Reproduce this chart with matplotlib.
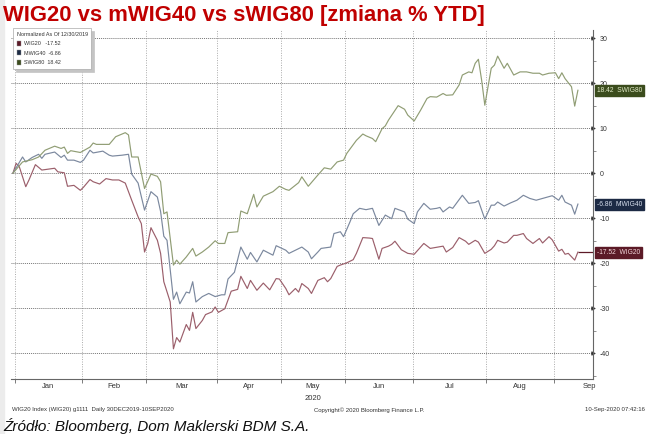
import matplotlib
matplotlib.use("Agg")
import matplotlib.pyplot as plt
import matplotlib.font_manager as fm
from matplotlib.patches import Patch, Rectangle
import pandas as pd


# sesje GPW liczone od 30.12.2019 (sesja 0), wartosci w % od poczatku roku
wig20_idx = [0, 1, 2, 4, 5, 7, 9, 12, 13, 14, 16, 17, 19, 21, 22, 24, 25, 27, 29, 31,
             33, 35, 37, 39, 40, 41, 42, 43, 45, 46, 47, 49, 50, 51, 52, 54, 55, 56, 57, 59,
             60, 62, 63, 64, 66, 68, 70, 71, 73, 74, 76, 78, 80, 82, 83, 85, 86, 88, 89, 90,
             92, 93, 95, 97, 98, 99, 101, 102, 104, 106, 107, 109, 111, 112, 114, 115, 117, 118, 119, 121,
             123, 125, 127, 128, 130, 134, 135, 137, 139, 141, 142, 144, 145, 147, 149, 150, 151, 153, 154, 156,
             157, 159, 160, 162, 164, 165, 167, 168, 170, 171, 172, 173, 175, 176]
wig20_val = [0.0, 2.2, 1.4, -3.0, -1.5, 1.9, 0.7, 1.0, 1.1, 0.3, 0.1, -2.9, -2.7, -3.8, -3.1, -1.4, -1.9, -2.4, -1.2, -1.5,
             -1.5, -2.2, -6.0, -9.7, -11.2, -17.5, -15.6, -12.1, -14.9, -17.8, -24.1, -28.6, -39.0, -36.5, -37.5, -33.6, -34.9, -30.9, -34.5, -32.7,
             -31.4, -30.8, -29.7, -30.9, -30.1, -26.2, -25.8, -22.9, -25.6, -23.8, -26.0, -24.4, -25.9, -23.4, -23.5, -25.6, -27.0, -25.6, -26.4, -24.5,
             -25.6, -26.7, -23.8, -23.2, -24.1, -23.4, -20.7, -20.4, -19.9, -19.2, -17.8, -14.3, -14.4, -14.5, -19.1, -16.7, -16.2, -15.8, -15.1, -17.0,
             -17.8, -18.0, -16.4, -15.6, -16.7, -16.2, -17.5, -16.5, -14.3, -15.1, -15.8, -14.9, -15.3, -17.8, -16.9, -16.1, -14.9, -15.5, -15.3, -13.8,
             -13.8, -13.4, -14.5, -15.6, -14.5, -15.5, -14.1, -14.8, -17.3, -16.9, -18.0, -17.8, -19.3, -17.52]

mwig40_idx = [0, 3, 4, 6, 8, 9, 10, 13, 15, 16, 17, 19, 21, 22, 24, 25, 28, 30, 31, 34,
              36, 37, 39, 41, 43, 45, 46, 47, 48, 50, 51, 52, 54, 55, 56, 57, 59, 61, 63, 65,
              66, 67, 69, 71, 73, 74, 76, 78, 81, 82, 85, 86, 88, 90, 92, 93, 95, 96, 99, 100,
              102, 103, 105, 106, 108, 110, 112, 114, 116, 118, 119, 122, 123, 125, 126, 128, 130, 132, 133, 134,
              136, 137, 140, 142, 144, 145, 147, 149, 150, 151, 153, 155, 157, 159, 161, 163, 165, 168, 170, 171,
              172, 174, 175, 176]
mwig40_val = [0.0, 3.6, 2.5, 3.5, 4.2, 3.3, 4.2, 4.7, 3.5, 4.0, 2.9, 2.9, 2.4, 2.9, 5.1, 4.5, 4.9, 4.0, 3.8, 4.0,
              4.2, -0.2, -2.2, -8.2, -4.1, -5.3, -8.5, -14.0, -14.9, -28.0, -26.4, -29.0, -26.4, -26.6, -24.1, -28.6, -27.4, -26.7, -27.4, -27.0,
              -27.0, -23.5, -22.0, -16.4, -19.1, -17.6, -19.7, -17.1, -18.2, -16.1, -17.1, -17.8, -17.1, -16.4, -17.5, -19.0, -17.5, -16.7, -16.4, -13.4,
              -13.0, -14.1, -10.8, -9.0, -7.8, -8.1, -7.8, -11.6, -9.3, -10.1, -7.8, -8.6, -10.2, -11.2, -8.6, -6.7, -8.0, -7.8, -7.6, -8.6,
              -7.5, -7.8, -4.9, -6.7, -6.5, -6.1, -10.2, -7.1, -7.1, -6.4, -7.3, -6.6, -6.0, -4.9, -5.6, -6.0, -5.6, -5.0, -6.0, -4.9,
              -6.4, -7.1, -9.1, -6.86]

swig80_idx = [0, 3, 6, 8, 10, 13, 15, 16, 17, 18, 21, 24, 25, 26, 30, 32, 35, 36, 37, 39,
              41, 43, 45, 46, 47, 48, 50, 51, 52, 54, 56, 57, 59, 61, 63, 64, 66, 67, 70, 71,
              73, 75, 76, 78, 81, 83, 85, 86, 89, 90, 92, 95, 97, 99, 101, 103, 104, 107, 109, 110,
              112, 113, 115, 116, 117, 120, 122, 123, 125, 127, 129, 130, 132, 134, 135, 137, 139, 140, 142, 143,
              144, 145, 146, 147, 149, 150, 151, 153, 154, 156, 158, 160, 162, 164, 165, 167, 169, 170, 171, 172,
              174, 175, 176]
swig80_val = [0.0, 2.5, 3.0, 3.6, 5.1, 6.0, 5.5, 5.8, 4.4, 5.0, 4.6, 5.8, 6.7, 6.4, 6.4, 8.1, 9.0, 8.5, 3.6, 3.6,
              -3.4, -0.2, -0.7, -1.9, -9.0, -8.6, -20.4, -19.3, -20.2, -18.6, -16.7, -18.4, -17.5, -16.4, -15.0, -15.6, -15.6, -13.2, -13.0, -8.4,
              -9.0, -4.7, -7.5, -5.1, -4.1, -2.9, -3.6, -3.8, -2.1, -0.8, -2.9, -0.4, 1.2, 0.9, 2.5, 2.9, 4.4, 7.3, 8.7, 8.3,
              7.7, 7.0, 9.9, 10.5, 11.8, 15.0, 14.2, 12.9, 11.6, 14.0, 16.6, 17.0, 16.9, 17.7, 17.3, 17.4, 19.6, 21.8, 22.5, 22.3,
              24.4, 25.3, 20.7, 15.1, 23.3, 24.0, 26.0, 23.3, 24.4, 21.8, 22.5, 22.5, 22.2, 22.2, 21.8, 22.2, 22.3, 21.0, 22.3, 21.0,
              19.2, 14.9, 18.42]

names = ["WIG20", "MWIG40", "SWIG80"]
line_colors = ["#9b5f6b", "#7b889e", "#909d74"]
tag_colors = ["#5c1a27", "#1c2a44", "#3b4c1d"]
tag_text = ["#f2d6da", "#d8e0ee", "#e2ecc8"]

holidays = ["2019-12-31", "2020-01-01", "2020-01-06", "2020-04-10",
            "2020-04-13", "2020-05-01", "2020-06-11"]
month_labels = ["Jan", "Feb", "Mar", "Apr", "May", "Jun", "Jul", "Aug", "Sep"]

plt.rcParams["axes.unicode_minus"] = False

# kalendarz sesji az do konca wrzesnia (srodek etykiety Sep)
days = pd.bdate_range("2019-12-30", "2020-09-30")
days = days[~days.isin(pd.to_datetime(holidays))]
sess = pd.Series(range(len(days)), index=days)
bounds, centers = [], []
for m in range(1, 10):
    s = sess[(sess.index.month == m) & (sess.index.year == 2020)]
    bounds.append(s.iloc[0] - 0.5)
    centers.append((s.iloc[0] + s.iloc[-1]) / 2)

have = {f.name for f in fm.fontManager.ttflist}
narrow = "Liberation Sans Narrow" if "Liberation Sans Narrow" in have else "Liberation Sans"

W, H = 648, 434
fig = plt.figure(figsize=(W / 100, H / 100), dpi=100)
fig.patch.set_facecolor("white")
fig.patches.append(Rectangle((0, 0), 4 / W, 1, transform=fig.transFigure,
                             color="#ececec", zorder=0))

ax = fig.add_axes([11 / W, 1 - 379 / H, 582 / W, 349 / H])
ax.set_xlim(-0.6, 180.7)
ax.set_ylim(-45.7, 31.8)

series = [(wig20_idx, wig20_val), (mwig40_idx, mwig40_val), (swig80_idx, swig80_val)]
for (xi, yv), c in zip(series, line_colors):
    ax.plot(xi, yv, color=c, lw=0.85, zorder=3)

# linia ostatniej wartosci WIG20 do osi
ax.hlines(wig20_val[-1], wig20_idx[-1], ax.get_xlim()[1], color=tag_colors[0], lw=0.9, zorder=3)

for sp in ["top", "left"]:
    ax.spines[sp].set_visible(False)
for sp in ["bottom", "right"]:
    ax.spines[sp].set_color("#666666")
    ax.spines[sp].set_linewidth(0.8)

ax.yaxis.tick_right()
ax.set_yticks(range(-40, 31, 10))
ax.set_yticks(range(-45, 31, 5), minor=True)
ax.tick_params(axis="y", which="major", length=3, width=0.6, pad=1.5,
               labelsize=5, colors="#333333")
ax.tick_params(axis="y", which="minor", length=2, width=0.5, colors="#666666")
for lab in ax.get_yticklabels():
    lab.set_family(narrow)
for t in ax.yaxis.get_major_ticks():
    t.tick2line.set_marker(">")
    t.tick2line.set_markersize(2.5)

ax.set_xticks(bounds)
ax.set_xticklabels([])
ax.set_xticks(centers, minor=True)
ax.set_xticklabels(month_labels, minor=True, family=narrow)
ax.tick_params(axis="x", which="major", length=3, width=0.6, colors="#666666")
ax.tick_params(axis="x", which="minor", length=0, pad=3, labelsize=5.5, labelcolor="#333333")
ax.text(centers[4], -0.045, "2020", transform=ax.get_xaxis_transform(), ha="center",
        va="top", fontsize=5.5, family=narrow, color="#333333")

ax.grid(axis="y", which="major", color="#777777", lw=0.7, ls=(0, (1, 1)))
ax.grid(axis="x", which="major", color="#aaaaaa", lw=0.7, ls=(0, (1, 1.5)))

handles = [Patch(facecolor=c, edgecolor="#999999", lw=0.3) for c in tag_colors]
labels = ["WIG20   -17.52", "MWIG40  -6.86", "SWIG80  18.42"]
leg = ax.legend(handles, labels, title="Normalized As Of 12/30/2019", loc="upper left",
                bbox_to_anchor=(0.003, 1.006), fontsize=3.9, title_fontsize=3.9,
                handlelength=0.9, handleheight=1.1, handletextpad=0.5, labelspacing=0.75,
                borderpad=0.7, fancybox=False, shadow={"color": "#c4c4c4", "alpha": 1},
                framealpha=1, edgecolor="#aaaaaa", borderaxespad=0)
leg.get_frame().set_linewidth(0.5)
leg._legend_box.align = "left"
for t in leg.get_texts() + [leg.get_title()]:
    t.set_family(narrow)
    t.set_color("#333333")

vals = [wig20_val[-1], mwig40_val[-1], swig80_val[-1]]
for v, n, bc, tc in zip(vals, names, tag_colors, tag_text):
    ax.annotate(f"{v:.2f}  {n}", xy=(1, v), xycoords=("axes fraction", "data"),
                xytext=(3, 0), textcoords="offset points", ha="left", va="center",
                fontsize=4.8, family=narrow, color=tc, annotation_clip=False,
                bbox=dict(boxstyle="square,pad=0.3", fc=bc, ec=bc))

fig.text(3 / W, 1 - 15 / H, "WIG20 vs mWIG40 vs sWIG80 [zmiana % YTD]", ha="left", va="center",
         fontsize=15.8, fontweight="bold", color="#c00000", family="Liberation Sans")
fig.text(12 / W, 1 - 410 / H, "WIG20 Index (WIG20) g1111  Daily 30DEC2019-10SEP2020",
         ha="left", va="center", fontsize=4.3, family=narrow, color="#333333")
fig.text(369 / W, 1 - 410 / H, "Copyright\u00a9 2020 Bloomberg Finance L.P.",
         ha="center", va="center", fontsize=4.3, family=narrow, color="#333333")
fig.text(645 / W, 1 - 410 / H, "10-Sep-2020 07:42:16",
         ha="right", va="center", fontsize=4.3, family=narrow, color="#333333")
fig.text(3 / W, 1 - 426 / H, "\u0179r\u00f3d\u0142o: Bloomberg, Dom Maklerski BDM S.A.",
         ha="left", va="center", fontsize=11, style="italic", color="#111111",
         family="Liberation Sans")

fig.savefig("out.png", dpi=100)
